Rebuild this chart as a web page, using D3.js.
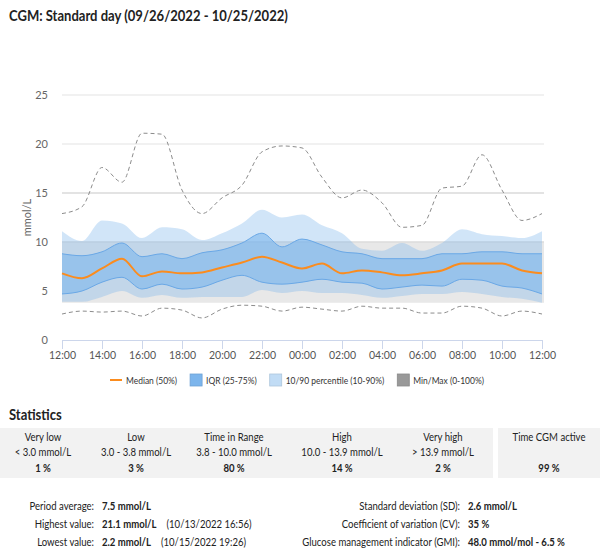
<!DOCTYPE html>
<html>
<head>
<meta charset="utf-8">
<script src="https://cdn.jsdelivr.net/npm/d3@7"></script>
<style>
  body { margin: 0; background: #fff; }
  svg { display: block; font-family: Lato, "Open Sans", sans-serif; }
</style>
</head>
<body>
<div id="container"></div>
<script>
/* DATA - hourly values, 12:00 -> 12:00 next day */
const hours = d3.range(0, 25);
const tickLabels = ["12:00", "14:00", "16:00", "18:00", "20:00", "22:00", "00:00",
  "02:00", "04:00", "06:00", "08:00", "10:00", "12:00"];

const maxVals = [12.9, 13.6, 17.6, 16.1, 21.1, 21.0, 15.3, 12.9, 14.5, 15.8, 19.2, 19.8, 19.6,
  16.6, 14.5, 15.3, 14.0, 11.5, 11.7, 15.5, 15.7, 18.9, 15.3, 12.2, 12.9];
const p90 = [11.1, 10.1, 12.2, 11.9, 10.4, 11.5, 11.3, 10.2, 10.9, 11.9, 13.3, 12.5, 12.8,
  11.7, 10.9, 9.3, 9.1, 9.9, 9.1, 9.9, 11.3, 10.8, 10.6, 10.4, 11.1];
const p75 = [8.8, 8.6, 9.0, 9.9, 8.5, 8.8, 8.3, 8.9, 9.2, 9.9, 10.9, 9.5, 10.3,
  9.7, 9.0, 8.8, 8.3, 8.3, 8.3, 8.8, 8.8, 9.0, 9.0, 8.8, 8.8];
const median = [6.8, 6.3, 7.3, 8.3, 6.5, 7.0, 6.8, 6.9, 7.4, 7.9, 8.5, 7.9, 7.3,
  7.8, 6.8, 7.1, 6.9, 6.6, 6.8, 7.1, 7.8, 7.8, 7.8, 7.1, 6.8];
const p25 = [4.7, 5.0, 5.9, 6.4, 5.2, 5.7, 5.2, 5.4, 6.1, 6.6, 5.9, 5.7, 5.9,
  6.2, 5.9, 5.8, 5.2, 5.4, 5.6, 5.5, 6.2, 6.1, 5.5, 5.3, 4.7];
const p10 = [3.9, 3.9, 4.4, 5.0, 4.3, 4.6, 4.3, 4.4, 4.4, 4.4, 5.1, 4.8, 5.0,
  4.8, 4.8, 4.6, 4.3, 4.5, 4.7, 4.7, 4.9, 4.7, 4.4, 4.2, 3.8];
const minVals = [2.65, 2.95, 2.85, 2.95, 2.45, 3.25, 3.05, 2.25, 3.15, 3.55, 3.45, 2.95, 3.35,
  3.15, 2.95, 3.45, 3.25, 3.25, 2.75, 2.75, 3.45, 3.25, 2.45, 2.95, 2.65];

const targetRange = [3.8, 10.0];
const yTicks = [0, 5, 10, 15, 20, 25];

const legendItems = ["Median (50%)", "IQR (25-75%)", "10/90 percentile (10-90%)", "Min/Max (0-100%)"];

const statCategories = ["Very low", "Low", "Time in Range", "High", "Very high"];
const statRanges = ["< 3.0 mmol/L", "3.0 - 3.8 mmol/L", "3.8 - 10.0 mmol/L", "10.0 - 13.9 mmol/L", "> 13.9 mmol/L"];
const statPercents = ["1 %", "3 %", "80 %", "14 %", "2 %"];
const activeLabel = "Time CGM active";
const activePercent = "99 %";

const leftLabels = ["Period average:", "Highest value:", "Lowest value:"];
const leftValues = ["7.5 mmol/L", "21.1 mmol/L", "2.2 mmol/L"];
const leftNotes = ["", "(10/13/2022 16:56)", "(10/15/2022 19:26)"];
const rightLabels = ["Standard deviation (SD):", "Coefficient of variation (CV):", "Glucose management indicator (GMI):"];
const rightValues = ["2.6 mmol/L", "35 %", "48.0 mmol/mol - 6.5 %"];

/* LAYOUT */
const width = 600, height = 556;
const plot = { left: 62, right: 542, top: 95, bottom: 340 };
const squeeze = 0.87; // the original uses a narrower font than Lato

// squeeze a text horizontally around its own anchor x, returns drawn width
function condense(sel, f = squeeze) {
  let w = 0;
  sel.each(function () {
    const node = d3.select(this);
    const ax = +node.attr("x") || 0;
    node.attr("transform", `translate(${ax},0) scale(${f},1) translate(${-ax},0)`);
    w = this.getComputedTextLength() * f;
  });
  return w;
}

const svg = d3.select("#container")
  .append("svg")
  .attr("width", width)
  .attr("height", height);

condense(svg.append("text")
  .attr("x", 9)
  .attr("y", 21)
  .attr("font-size", 15)
  .attr("font-weight", "bold")
  .attr("fill", "#222")
  .text("CGM: Standard day (09/26/2022 - 10/25/2022)"));

// SCALES
const x = d3.scaleLinear().domain([0, 24]).range([plot.left, plot.right]);
const y = d3.scaleLinear().domain([0, 25]).range([plot.bottom, plot.top]);

// GRID
svg.selectAll("line.grid")
  .data(yTicks.filter(d => d > 0))
  .join("line")
  .attr("class", "grid")
  .attr("x1", plot.left).attr("x2", plot.right + 2)
  .attr("y1", d => y(d)).attr("y2", d => y(d))
  .attr("stroke", "#e3e3e3")
  .attr("stroke-width", d => d === 15 ? 2 : 1);

// TARGET BAND
svg.append("rect")
  .attr("x", plot.left)
  .attr("width", plot.right - plot.left + 2)
  .attr("y", y(targetRange[1]))
  .attr("height", y(targetRange[0]) - y(targetRange[1]))
  .attr("fill", "#e8e8e8");
svg.append("line")
  .attr("x1", plot.left).attr("x2", plot.right + 2)
  .attr("y1", y(targetRange[1])).attr("y2", y(targetRange[1]))
  .attr("stroke", "#d6d6d6");

// AREAS
const curve = d3.curveMonotoneX;
const area = (lo, hi) => d3.area()
  .x(d => x(d))
  .y0(d => y(lo[d]))
  .y1(d => y(hi[d]))
  .curve(curve);
const line = vals => d3.line()
  .x(d => x(d))
  .y(d => y(vals[d]))
  .curve(curve);

svg.append("path")
  .attr("d", area(p10, p90)(hours))
  .attr("fill", "#7cb5ec")
  .attr("fill-opacity", 0.35);

svg.append("path")
  .attr("d", area(p25, p75)(hours))
  .attr("fill", "#7cb5ec")
  .attr("fill-opacity", 0.6);

[p25, p75].forEach(vals => {
  svg.append("path")
    .attr("d", line(vals)(hours))
    .attr("fill", "none")
    .attr("stroke", "#6aa8e6")
    .attr("stroke-width", 1);
});

[maxVals, minVals].forEach(vals => {
  svg.append("path")
    .attr("d", line(vals)(hours))
    .attr("fill", "none")
    .attr("stroke", "#8c8c8c")
    .attr("stroke-width", 1)
    .attr("stroke-dasharray", "4,3");
});

svg.append("path")
  .attr("d", line(median)(hours))
  .attr("fill", "none")
  .attr("stroke", "#fb8c1e")
  .attr("stroke-width", 2);

// AXES
const yAxis = svg.append("g")
  .attr("transform", `translate(${plot.left - 14},0)`)
  .call(d3.axisLeft(y).tickValues(yTicks).tickSize(0).tickPadding(0));
yAxis.select(".domain").remove();
yAxis.selectAll("text").attr("font-size", 11).attr("fill", "#666").attr("font-family", "Lato");

svg.append("text")
  .attr("transform", `translate(31,${(plot.top + plot.bottom) / 2}) rotate(-90)`)
  .attr("text-anchor", "middle")
  .attr("font-size", 11)
  .attr("fill", "#666")
  .text("mmol/L");

const xAxis = svg.append("g")
  .attr("transform", `translate(0,${plot.bottom})`)
  .call(d3.axisBottom(x)
    .tickValues(d3.range(0, 25, 2))
    .tickFormat((d, i) => tickLabels[i])
    .tickSize(9)
    .tickSizeOuter(0)
    .tickPadding(3));
xAxis.select(".domain").attr("stroke", "#ccd6eb");
xAxis.selectAll(".tick line").attr("stroke", "#ccd6eb");
xAxis.selectAll("text").attr("font-size", 10.5).attr("fill", "#555").attr("font-family", "Lato");

// LEGEND - items laid out one after another
const legendFill = [null, "#7cb5ec", "#c1dcf5", "#999"];
const legend = svg.append("g").attr("transform", "translate(110,380)");
let cursor = 0;
legendItems.forEach((d, i) => {
  const g = legend.append("g").attr("transform", `translate(${cursor},0)`);
  if (i === 0) {
    g.append("line").attr("x1", 0).attr("x2", 12).attr("y1", 0).attr("y2", 0)
      .attr("stroke", "#fb8c1e").attr("stroke-width", 2);
  } else {
    g.append("rect").attr("x", 0).attr("y", -6).attr("width", 12).attr("height", 12)
      .attr("fill", legendFill[i]).attr("stroke", d3.color(legendFill[i]).darker(0.3)).attr("stroke-width", 0.8);
  }
  const w = condense(g.append("text").attr("x", 16).attr("y", 3.5)
    .attr("font-size", 9.5).attr("fill", "#333").text(d), 0.89);
  cursor += 16 + w + 13;
});

// STATISTICS
condense(svg.append("text")
  .attr("x", 9).attr("y", 420)
  .attr("font-size", 15).attr("font-weight", "bold").attr("fill", "#222")
  .text("Statistics"));

svg.append("rect").attr("x", 0).attr("y", 428).attr("width", 493).attr("height", 50).attr("fill", "#f2f2f2");
svg.append("rect").attr("x", 498).attr("y", 428).attr("width", 102).attr("height", 50).attr("fill", "#f2f2f2");

const colX = [43, 136, 234, 342, 443];
const cols = svg.selectAll("g.statcol")
  .data(statCategories)
  .join("g")
  .attr("class", "statcol")
  .attr("transform", (d, i) => `translate(${colX[i]},0)`)
  .attr("text-anchor", "middle")
  .attr("font-size", 11)
  .attr("fill", "#222");
cols.append("text").attr("y", 441).text(d => d);
cols.append("text").attr("y", 456).text((d, i) => statRanges[i]);
cols.append("text").attr("y", 472).attr("font-weight", "bold").text((d, i) => statPercents[i]);
condense(cols.selectAll("text"));

const active = svg.append("g").attr("font-size", 11).attr("fill", "#222")
  .attr("text-anchor", "middle");
active.append("text").attr("x", 549).attr("y", 441).text(activeLabel);
active.append("text").attr("x", 549).attr("y", 472).attr("font-weight", "bold").text(activePercent);
condense(active.selectAll("text"));

const rowY = [510, 528, 546];
const lower = svg.append("g").attr("font-size", 11).attr("fill", "#222");
leftLabels.forEach((t, i) => {
  condense(lower.append("text").attr("x", 94).attr("y", rowY[i]).attr("text-anchor", "end").text(t));
  const w = condense(lower.append("text").attr("x", 102).attr("y", rowY[i])
    .attr("font-weight", "bold").text(leftValues[i]));
  if (leftNotes[i]) {
    condense(lower.append("text").attr("x", 102 + w + 10).attr("y", rowY[i]).text(leftNotes[i]));
  }
});
rightLabels.forEach((t, i) => {
  condense(lower.append("text").attr("x", 460).attr("y", rowY[i]).attr("text-anchor", "end").text(t));
  condense(lower.append("text").attr("x", 468).attr("y", rowY[i]).attr("font-weight", "bold").text(rightValues[i]));
});
</script>
</body>
</html>
